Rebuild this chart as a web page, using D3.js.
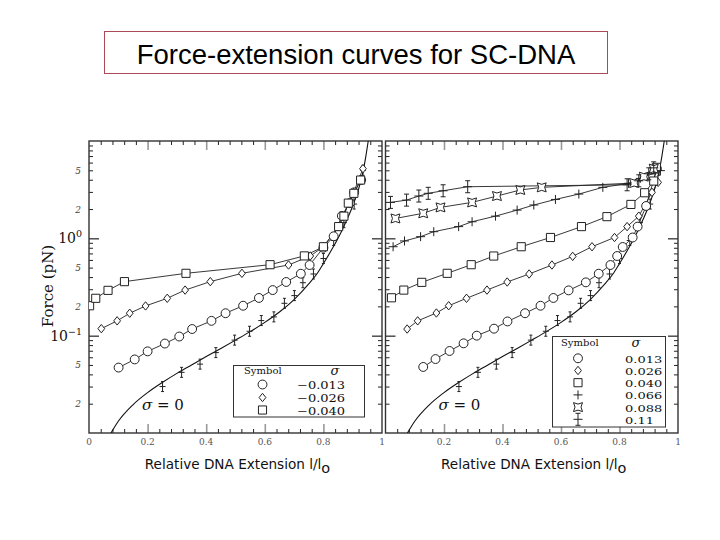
<!DOCTYPE html>
<html><head><meta charset="utf-8">
<script src="https://cdn.jsdelivr.net/npm/d3@7"></script>
<style>body{margin:0;background:#fff}</style>
</head><body><svg id="c" width="720" height="540"></svg>
<script>
// ---------- DATA ----------
const titleText = "Force-extension curves for SC-DNA";
const xMajorTicks = [0, 0.2, 0.4, 0.6, 0.8, 1];
const xTickLabelsLeft = ["0", "0.2", "0.4", "0.6", "0.8", "1"];
const xTickLabelsRight = ["", "0.2", "0.4", "0.6", "0.8", "1"];
const xMinorTicks = [0.04,0.08,0.12,0.16,0.24,0.28,0.32,0.36,0.44,0.48,0.52,0.56,0.64,0.68,0.72,0.76,0.84,0.88,0.92,0.96];
const yLabelVals = [5, 2, 1, 0.5, 0.2, 0.1, 0.05, 0.02];
const yLabelBase = ["5", "2", "10", "5", "2", "10", "5", "2"];
const yLabelExp  = ["", "", "0", "", "", "\u22121", "", ""];
const legendLeftSigma  = ["\u22120.013", "\u22120.026", "\u22120.040"];
const legendRightSigma = ["0.013", "0.026", "0.040", "0.066", "0.088", "0.11"];

// theoretical sigma = 0 curve
const theoryCurve = [[0.075,0.0100],[0.1,0.0132],[0.15,0.0195],[0.2,0.026],[0.25,0.033],[0.3,0.041],[0.35,0.05],[0.4,0.061],[0.45,0.074],[0.5,0.09],[0.55,0.11],[0.6,0.137],[0.65,0.175],[0.7,0.235],[0.75,0.34],[0.78,0.44],[0.8,0.55],[0.83,0.78],[0.86,1.15],[0.88,1.55],[0.9,2.15],[0.92,3.2],[0.935,4.8],[0.945,7.0],[0.953,10.0]];
// sigma = 0 measured points (same in both panels)
const sigma0Points = [[0.251,0.030],[0.316,0.042],[0.379,0.051],[0.433,0.067],[0.497,0.090],[0.548,0.111],[0.588,0.143],[0.631,0.156],[0.667,0.215],[0.701,0.258],[0.73,0.35],[0.766,0.43],[0.80,0.62],[0.835,0.95],[0.87,1.45],[0.905,2.25],[0.935,5.0]];

const leftCircle = [[0.101,0.047],[0.156,0.057],[0.2,0.069],[0.259,0.083],[0.308,0.098],[0.352,0.117],[0.418,0.142],[0.466,0.170],[0.526,0.203],[0.580,0.244],[0.627,0.294],[0.673,0.356],[0.723,0.433],[0.753,0.532],[0.80,0.80],[0.835,1.05],[0.863,1.7],[0.89,2.3],[0.905,2.97],[0.929,3.98]];
const leftDiamond = [[0.042,0.118],[0.096,0.142],[0.139,0.170],[0.193,0.202],[0.267,0.242],[0.328,0.294],[0.414,0.359],[0.522,0.437],[0.681,0.532],[0.755,0.658],[0.80,0.82],[0.852,1.32],[0.885,2.3],[0.903,2.95],[0.935,5.2]];
const leftSquare = [[0.002,0.203],[0.023,0.242],[0.065,0.292],[0.121,0.359],[0.331,0.437],[0.618,0.536],[0.735,0.66],[0.80,0.82],[0.852,1.32],[0.87,1.69],[0.885,2.3],[0.904,2.9],[0.927,3.97]];

const rightCircle = [[0.129,0.0477],[0.171,0.0575],[0.219,0.0696],[0.267,0.0834],[0.312,0.100],[0.371,0.118],[0.417,0.140],[0.477,0.170],[0.530,0.203],[0.574,0.244],[0.626,0.292],[0.685,0.353],[0.729,0.433],[0.769,0.532],[0.792,0.658],[0.811,0.815],[0.845,1.02],[0.862,1.32],[0.891,2.15],[0.928,5.2]];
const rightDiamond = [[0.074,0.117],[0.110,0.142],[0.174,0.171],[0.216,0.203],[0.277,0.242],[0.347,0.294],[0.416,0.356],[0.491,0.430],[0.569,0.532],[0.640,0.653],[0.706,0.82],[0.783,1.02],[0.826,1.32],[0.866,1.69],[0.911,2.97],[0.932,3.76]];
const rightSquare = [[0.0205,0.245],[0.0626,0.294],[0.124,0.353],[0.211,0.437],[0.293,0.536],[0.370,0.658],[0.464,0.82],[0.564,1.02],[0.670,1.32],[0.757,1.67],[0.839,2.23],[0.886,2.94],[0.917,3.88],[0.926,5.36]];
const rightPlus = [[0.026,0.82],[0.065,0.94],[0.12,1.04],[0.165,1.17],[0.25,1.32],[0.296,1.48],[0.376,1.69],[0.450,1.95],[0.507,2.20],[0.581,2.51],[0.661,2.85],[0.743,3.34],[0.831,3.67],[0.871,4.13],[0.94,4.96]];
const rightCross = [[0.034,1.60],[0.129,1.81],[0.188,2.08],[0.296,2.34],[0.381,2.72],[0.461,3.14],[0.534,3.34],[0.85,3.7],[0.883,4.3],[0.917,5.2]];
const rightBar = [[0.017,2.34],[0.072,2.47],[0.114,2.72],[0.146,2.90],[0.197,3.08],[0.281,3.39],[0.826,3.55],[0.866,3.9],[0.9,4.6],[0.917,5.3]];

// ---------- SYMBOLS ----------
const symDiamond = {draw(c){c.moveTo(0,-4.2);c.lineTo(3.4,0);c.lineTo(0,4.2);c.lineTo(-3.4,0);c.closePath();}};
const symPlus = {draw(c){c.moveTo(-4.5,0);c.lineTo(4.5,0);c.moveTo(0,-4.5);c.lineTo(0,4.5);}};
const symStar = {draw(c){c.moveTo(-3,0);c.lineTo(3,0);c.moveTo(0,-5);c.lineTo(0,5);c.moveTo(-1.5,-5);c.lineTo(1.5,-5);c.moveTo(-1.5,5);c.lineTo(1.5,5);}};
const symCross = {draw(c){c.moveTo(-4.5,-4.5);c.quadraticCurveTo(0,-1.5,4.5,-4.5);c.quadraticCurveTo(1.5,0,4.5,4.5);c.quadraticCurveTo(0,1.5,-4.5,4.5);c.quadraticCurveTo(-1.5,0,-4.5,-4.5);c.closePath();}};
const symBar = {draw(c){c.moveTo(-4.5,0);c.lineTo(4.5,0);c.moveTo(0,-6);c.lineTo(0,6);c.moveTo(-2.5,-6);c.lineTo(2.5,-6);c.moveTo(-2.5,6);c.lineTo(2.5,6);}};
const symTypes = {circle:[d3.symbolCircle,62], diamond:[symDiamond,1], square:[d3.symbolSquare,66], plus:[symPlus,1], star:[symStar,1], cross:[symCross,1], bar:[symBar,1]};
const filled = {circle:true, diamond:true, square:true, cross:true};

// ---------- DRAW ----------
const svg = d3.select("#c");
svg.append("rect").attr("width",720).attr("height",540).attr("fill","#fff");

// title
svg.append("rect").attr("x",104.5).attr("y",31.5).attr("width",503).attr("height",42)
  .attr("fill","none").attr("stroke","#a84a58").attr("stroke-width",1);
svg.append("text").attr("x",356).attr("y",63.5).attr("text-anchor","middle")
  .attr("font-family","Liberation Sans, Arial, sans-serif").attr("font-size",27.5).attr("fill","#000")
  .text(titleText);

const yScale = d3.scaleLog().domain([0.01,10]).range([433,141]);
const panels = [
  {x0:89, x1:382, labels:xTickLabelsLeft, yLabels:true, legend:legendLeftSigma,
   series:[{d:leftCircle,s:"circle"},{d:leftDiamond,s:"diamond"},{d:leftSquare,s:"square"}],
   legendBox:[233.5,365.5,131,51.5], legendRows:[384.5,397.5,410], legendSymX:262.5, legendNumX:297, legendHead:[244,373.5,335], numScale:0.82},
  {x0:385.5, x1:678, labels:xTickLabelsRight, yLabels:false, legend:legendRightSigma,
   series:[{d:rightCircle,s:"circle"},{d:rightDiamond,s:"diamond"},{d:rightSquare,s:"square"},{d:rightPlus,s:"plus"},{d:rightCross,s:"cross"},{d:rightBar,s:"bar"}],
   legendBox:[552.5,336.5,113,90.5], legendRows:[358.3,370.5,382.7,394.9,407.1,419.3], legendSymX:578, legendNumX:625, legendHead:[561,346,636], numScale:0.76}
];
const serif = "DejaVu Serif, Liberation Serif, serif";
const lineGen = (x) => d3.line().x(d=>x(d[0])).y(d=>yScale(d[1]));

panels.forEach((p,pi) => {
  const x = d3.scaleLinear().domain([0,1]).range([p.x0,p.x1]);
  const g = svg.append("g");
  const clipId = "clip"+pi;
  svg.append("clipPath").attr("id",clipId).append("rect")
    .attr("x",p.x0).attr("y",141).attr("width",p.x1-p.x0).attr("height",292);

  // ticks via d3 axes (inward)
  const yMinor = yScale.ticks().filter(v => Math.abs(Math.log10(v)-Math.round(Math.log10(v)))>1e-6);
  const yMajor = yScale.ticks().filter(v => Math.abs(Math.log10(v)-Math.round(Math.log10(v)))<1e-6);
  const addAxis = (axis, tr, color, width) => {
    const a = g.append("g").attr("transform",tr).call(axis);
    a.select(".domain").remove();
    a.selectAll("line").attr("stroke",color).attr("stroke-width",width);
    a.selectAll("text").remove();
  };
  [[d3.axisBottom,"translate(0,433)"],[d3.axisTop,"translate(0,141)"]].forEach(([ax,tr])=>{
    addAxis(ax(x).tickValues(xMinorTicks).tickSize(-4), tr, "#222", 1);
    addAxis(ax(x).tickValues(xMajorTicks.slice(1,-1)).tickSize(-9), tr, "#999", 1.6);
  });
  [[d3.axisLeft,`translate(${p.x0},0)`],[d3.axisRight,`translate(${p.x1},0)`]].forEach(([ax,tr])=>{
    addAxis(ax(yScale).tickValues(yMinor).tickSize(-4), tr, "#222", 1);
    addAxis(ax(yScale).tickValues(yMajor.filter(v=>v>0.011&&v<9.9)).tickSize(-10), tr, "#222", 1.2);
  });

  // frame
  g.append("rect").attr("x",p.x0).attr("y",141).attr("width",p.x1-p.x0).attr("height",292)
    .attr("fill","none").attr("stroke","#333").attr("stroke-width",1.4);

  // x tick labels
  g.append("g").selectAll("text").data(xMajorTicks).join("text")
    .attr("x",d=>x(d)).attr("y",444.5).attr("text-anchor","middle")
    .attr("font-family",serif).attr("font-size",9).attr("fill","#555")
    .text((d,i)=>p.labels[i]);

  // y tick labels
  if (p.yLabels) {
    yLabelVals.forEach((v,i)=>{
      const big = yLabelExp[i] !== "";
      const t = g.append("text").attr("x", big ? 82 : 81).attr("y", yScale(v) + (big ? 5 : 3.5))
        .attr("text-anchor","end").attr("font-family",serif).attr("fill", big ? "#111" : "#444")
        .attr("font-size", big ? 14 : 9).attr("font-style", big ? "normal" : "italic");
      if (big) {
        t.append("tspan").text(yLabelBase[i]);
        t.append("tspan").attr("dy",-6).attr("font-size",9.5).text(yLabelExp[i]);
      } else t.text(yLabelBase[i]);
    });
    svg.append("text").attr("transform","translate(53,286) rotate(-90)").attr("text-anchor","middle")
      .attr("font-family",serif).attr("font-size",15).attr("fill","#111").text("Force (pN)");
  }

  // x axis title
  const xt = svg.append("text").attr("x",(p.x0+p.x1)/2 + 2).attr("y",469).attr("text-anchor","middle")
    .attr("font-family","DejaVu Sans, Verdana, sans-serif").attr("font-size",13.6).attr("fill","#111");
  xt.append("tspan").text("Relative DNA Extension l/l");
  xt.append("tspan").attr("dy",4).attr("font-size",14.5).text("o");

  // theory curve and data
  const plot = g.append("g").attr("clip-path",`url(#${clipId})`);
  plot.append("path").datum(theoryCurve).attr("d",d3.line().curve(d3.curveMonotoneX).x(d=>x(d[0])).y(d=>yScale(d[1])))
    .attr("fill","none").attr("stroke","#111").attr("stroke-width",1.1);
  p.series.forEach(s=>{
    plot.append("path").datum(s.d).attr("d",lineGen(x)).attr("fill","none").attr("stroke","#222").attr("stroke-width",0.9);
  });
  const drawSym = (sel, type) => {
    const [t,sz] = symTypes[type];
    sel.attr("d", d3.symbol(t, sz)).attr("fill", filled[type] ? "#fff" : "none")
      .attr("stroke","#222").attr("stroke-width",1);
  };
  plot.append("g").selectAll("path").data(sigma0Points).join("path")
    .attr("transform",d=>`translate(${x(d[0])},${yScale(d[1])})`).call(drawSym,"star");
  p.series.forEach(s=>{
    plot.append("g").selectAll("path").data(s.d).join("path")
      .attr("transform",d=>`translate(${x(d[0])},${yScale(d[1])})`).call(drawSym,s.s);
  });

  // sigma = 0 label
  const sl = g.append("text").attr("x",p.x0+53).attr("y",410).attr("font-family",serif).attr("font-size",15).attr("fill","#111");
  sl.append("tspan").attr("font-style","italic").text("\u03c3");
  sl.append("tspan").text(" = 0");

  // legend
  const [lx,ly,lw,lh] = p.legendBox;
  g.append("rect").attr("x",lx).attr("y",ly).attr("width",lw).attr("height",lh)
    .attr("fill","#fff").attr("stroke","#333").attr("stroke-width",1);
  g.append("text").attr("x",p.legendHead[0]).attr("y",p.legendHead[1]).attr("font-family",serif)
    .attr("font-size",10).attr("fill","#111").text("Symbol");
  g.append("text").attr("x",p.legendHead[2]).attr("y",p.legendHead[1]+1).attr("font-family",serif)
    .attr("font-size",13).attr("font-style","italic").attr("text-anchor","middle").attr("fill","#111").text("\u03c3");
  p.legend.forEach((lab,i)=>{
    const yy = p.legendRows[i];
    g.append("path").attr("transform",`translate(${p.legendSymX},${yy})`).call(drawSym,p.series[i].s);
    g.append("text").attr("transform",`translate(${p.legendNumX},${yy+4.5}) scale(1,${p.numScale})`)
      .attr("font-family",serif).attr("font-size",13).attr("fill","#111").text(lab);
  });
});
</script></body></html>
